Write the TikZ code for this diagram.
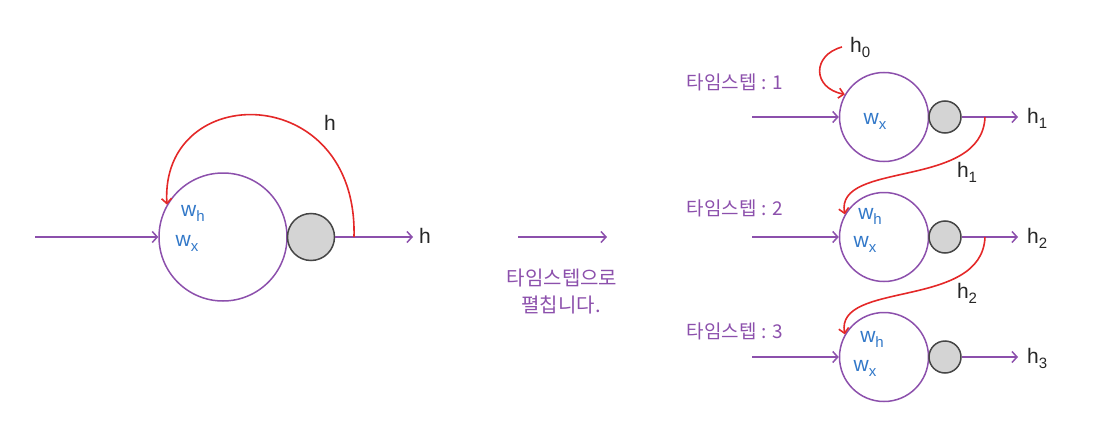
\documentclass[tikz,border=0pt]{standalone}
\usepackage{fontspec}
\setmainfont{Liberation Sans}
\newfontfamily\kofont{Noto Sans CJK KR}
\usetikzlibrary{arrows.meta}
\definecolor{rnnpurple}{RGB}{140,80,172}
\definecolor{rnnred}{RGB}{228,40,40}
\definecolor{rnnblue}{RGB}{50,120,200}
\definecolor{rnngray}{RGB}{212,212,212}
\definecolor{rnndark}{RGB}{70,70,70}
\newcommand\lowsub[1]{\raisebox{-0.45ex}{\fontsize{15}{15}\selectfont #1}}
\begin{document}
\begin{tikzpicture}[x=1pt,y=-1pt,
  cell/.style={circle,draw=rnnpurple,line width=1.5pt,inner sep=0pt},
  act/.style={circle,draw=rnndark,fill=rnngray,line width=1.5pt,inner sep=0pt},
  flow/.style={draw=rnnpurple,line width=1.5pt,-{Straight Barb[length=5pt,width=11pt,line width=1.5pt]}},
  loop/.style={draw=rnnred,line width=1.6pt,-{Straight Barb[length=5pt,width=10pt,line width=1.6pt]}},
  wt/.style={text=rnnblue,font=\fontsize{21}{23}\selectfont,inner sep=0pt},
  hl/.style={text=black!85,font=\fontsize{21}{23}\selectfont,inner sep=0pt},
  kor/.style={text=rnnpurple,font=\kofont\fontsize{19}{21}\selectfont,inner sep=0pt},
  korbig/.style={text=rnnpurple,font=\kofont\fontsize{20}{22}\selectfont,inner sep=0pt}
]
\useasboundingbox (0,0) rectangle (1108,428);
% ---------- left folded RNN ----------
\node[cell,minimum size=128pt] (big) at (223,237) {};
\node[act,minimum size=47pt] (bigact) at (311,237) {};
\coordinate (inL) at (35,237);
\coordinate (outL) at (413,237);
\coordinate (tapL) at (354,237);
\node[hl,anchor=west] (hout) at (419,236) {h};
\node[hl] (hloop) at (330,123) {h};
\node[wt] (wh0) at (193,213) {w\lowsub{h}};
\node[wt] (wx0) at (187,243) {w\lowsub{x}};
\draw[flow] (inL) -- (big.west);
\draw[flow] (bigact.east) -- (outL);
\draw[loop] (tapL) .. controls (358,80) and (160,80) .. (big.150);
% ---------- middle ----------
\coordinate (ma) at (518,237);
\coordinate (mb) at (607,237);
\draw[flow] (ma) -- (mb);
\node[korbig] (m1) at (562,278) {타임스텝으로};
\node[korbig] (m2) at (561,305) {펼칩니다.};
% ---------- right unrolled ----------
\foreach \i/\y in {1/117,2/237,3/357}{
  \node[cell,minimum size=89pt] (c\i) at (884,\y) {};
  \node[act,minimum size=32pt] (a\i) at (945,\y) {};
  \coordinate (in\i) at (752,\y);
  \coordinate (out\i) at (1018,\y);
  \coordinate (tap\i) at (985,\y);
  \draw[flow] (in\i) -- (c\i.west);
  \draw[flow] (a\i.east) -- (out\i);
  \node[hl,anchor=west] (ho\i) at (1027,\y+1) {h\lowsub{\i}};
}
\node[kor] (t1) at (735,82) {타임스텝\hspace{5pt}:\hspace{6pt}1};
\node[kor] (t2) at (735,208) {타임스텝\hspace{5pt}:\hspace{6pt}2};
\node[kor] (t3) at (735,331) {타임스텝\hspace{5pt}:\hspace{6pt}3};
\node[wt] (wx1) at (875,121) {w\lowsub{x}};
\node[wt] (wh2) at (870,216) {w\lowsub{h}};
\node[wt] (wx2) at (865,244) {w\lowsub{x}};
\node[wt] (wh3) at (872,339) {w\lowsub{h}};
\node[wt] (wx3) at (865,368) {w\lowsub{x}};
\coordinate (h0s) at (842,47);
\node[hl,anchor=west] (h0) at (850,47) {h\lowsub{0}};
\node[hl] (hm1) at (967,172) {h\lowsub{1}};
\node[hl] (hm2) at (967,293) {h\lowsub{2}};
\draw[loop] (h0s) .. controls (812,55) and (812,88) .. (c1.150);
\draw[loop] (tap1) .. controls (982,190) and (835,160) .. (c2.150);
\draw[loop] (tap2) .. controls (982,310) and (835,280) .. (c3.150);
\end{tikzpicture}
\end{document}
